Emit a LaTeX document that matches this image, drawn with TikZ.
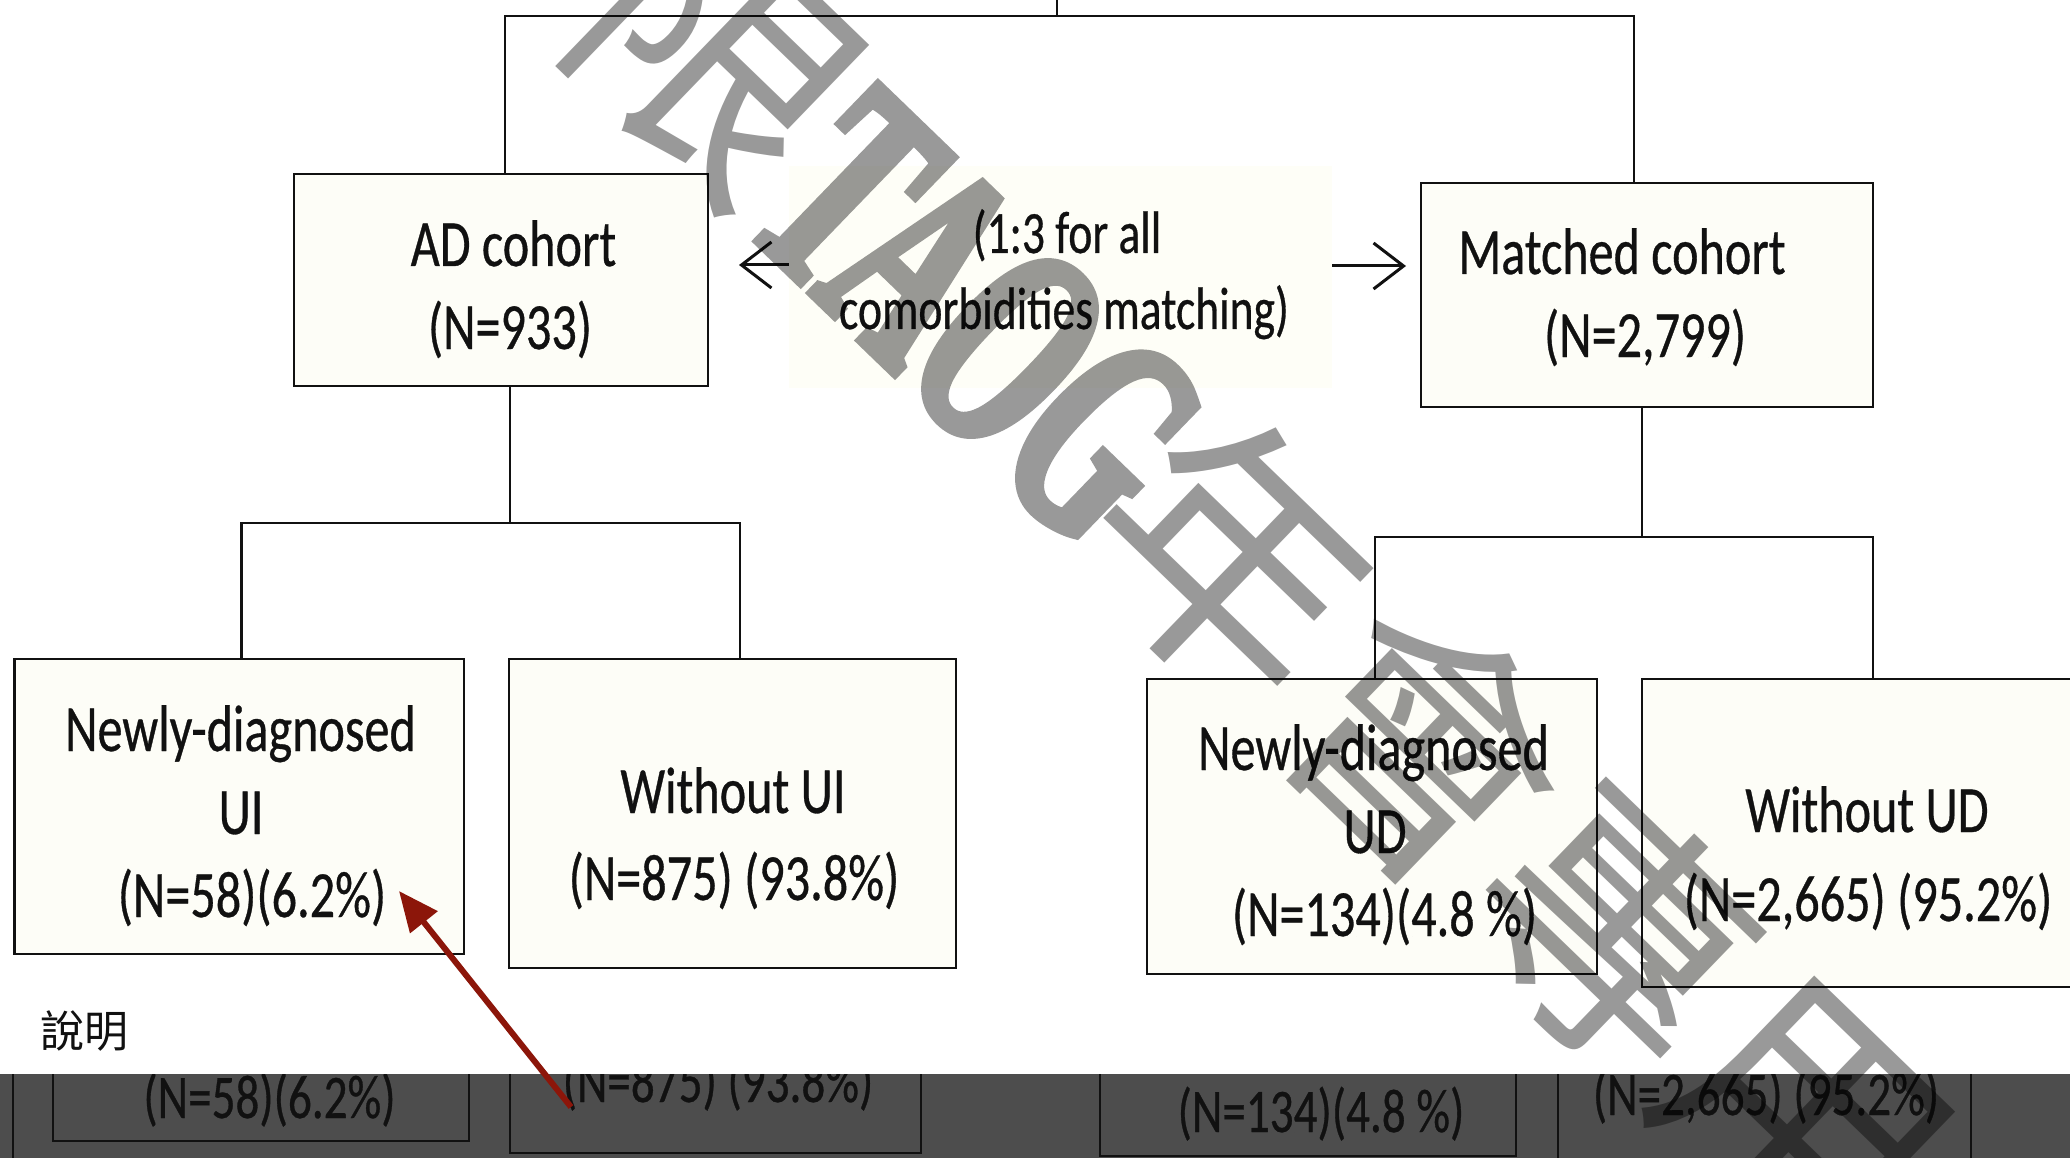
\documentclass[tikz,border=0pt]{standalone}
\usepackage{fontspec}
\setmainfont{Carlito}[FakeStretch=0.76,FakeBold=0.5]
\newfontfamily\cjkfont{Noto Sans CJK TC}
\newfontfamily\wmlatin{Liberation Serif}[FakeStretch=0.55,FakeBold=3]
\usetikzlibrary{arrows.meta}
\definecolor{boxfill}{RGB}{253,253,247}
\definecolor{midfill}{RGB}{254,254,247}
\definecolor{bandgray}{RGB}{77,77,77}
\definecolor{annored}{RGB}{140,22,10}
\definecolor{ink}{RGB}{17,17,17}
\begin{document}
\begin{tikzpicture}[x=1pt,y=-1pt,
  box/.style={draw=ink, line width=2.8pt, fill=boxfill, rectangle, inner sep=0pt},
  conn/.style={draw=ink, line width=2.6pt},
  lbl/.style={font=\fontsize{66}{83}\selectfont, anchor=base, inner sep=0pt, text=ink},
  mlbl/.style={font=\fontsize{60}{76}\selectfont, anchor=base, inner sep=0pt, text=ink},
  blbl/.style={font=\fontsize{62}{78}\selectfont, anchor=base, inner sep=0pt, text=ink},
  marr/.style={draw=ink, line width=3pt, -{Straight Barb[length=30pt,width=46pt,line width=3pt]}},
  redarr/.style={draw=annored, line width=6pt, -{Triangle[length=40pt,width=34pt]}},
  wm/.style={rotate=-44, text=black, inner sep=0pt}]
\useasboundingbox (0,0) rectangle (2070,1158);
\fill[white] (0,0) rectangle (2070,1158);

% boxes
\node[box, minimum width=414pt, minimum height=212pt] (ad) at (501,280) {};
\node[box, minimum width=452pt, minimum height=224pt] (mc) at (1647,295) {};
\node[fill=midfill, inner sep=0pt, minimum width=543pt, minimum height=222pt] (mid) at (1060.5,277) {};
\node[box, minimum width=449.5pt, minimum height=295pt] (ui) at (239.25,806.5) {};
\node[box, minimum width=447pt, minimum height=309pt] (woui) at (732.5,813.5) {};
\node[box, minimum width=450pt, minimum height=295pt] (ud) at (1372,826.5) {};
\node[box, minimum width=438pt, minimum height=308pt] (woud) at (1861,833) {};

% connectors
\coordinate (top) at (1057,0);
\coordinate (tj) at (1057,16);
\coordinate (lj) at (510,523);
\coordinate (rj) at (1642,537);
\draw[conn] (top) -- (tj);
\draw[conn] ([xshift=4pt]ad.north) |- (tj) -| ([xshift=-13pt]mc.north);
\draw[conn] ([xshift=9pt]ad.south) -- (lj);
\draw[conn] ([xshift=2pt]ui.north) |- (lj) -| ([xshift=7.5pt]woui.north);
\draw[conn] ([xshift=-5pt]mc.south) -- (rj);
\draw[conn] ([xshift=3pt]ud.north) |- (rj) -| ([xshift=12pt]woud.north);

% matching arrows
\coordinate (latip) at (739,265);
\coordinate (ratip) at (1406,266);
\draw[marr] ([yshift=12pt]mid.west) -- (latip);
\draw[marr] ([yshift=11pt]mid.east) -- (ratip);

% texts
\node[lbl] (t1) at (513.5,266) {AD cohort};
\node[lbl] (t2) at (510,349) {(N=933)};
\node[lbl] (t3) at (1622,274) {Matched cohort};
\node[lbl] (t4) at (1645,357) {(N=2,799)};
\node[mlbl] (t5) at (1067,253) {(1:3 for all};
\node[mlbl] (t6) at (1064,329) {comorbidities matching)};
\node[lbl] (t7) at (240.5,751) {Newly-diagnosed};
\node[lbl] (t8) at (241,834) {UI};
\node[lbl] (t9) at (252,917) {(N=58)(6.2\%)};
\node[lbl] (t10) at (733,813) {Without UI};
\node[lbl] (t11) at (734,900) {(N=875) (93.8\%)};
\node[lbl] (t12) at (1373.5,770) {Newly-diagnosed};
\node[lbl] (t13) at (1375,853) {UD};
\node[lbl] (t14) at (1384.5,936) {(N=134)(4.8 \%)};
\node[lbl] (t15) at (1867,832) {Without UD};
\node[lbl] (t16) at (1868,921) {(N=2,665) (95.2\%)};

% bottom band
\fill[bandgray] (0,1074) rectangle (2070,1158);
\begin{scope}
\clip (0,1074) rectangle (2070,1158);
\draw[ink, line width=2.6pt] (13,1000) -- (13,1200);
\draw[ink, line width=2.8pt] (53,1000) rectangle (469,1141);
\draw[ink, line width=2.8pt] (510,1000) rectangle (921,1153);
\draw[ink, line width=2.8pt] (1100,1000) rectangle (1516,1156);
\draw[ink, line width=2.8pt] (1558,1000) rectangle (1971,1200);
\node[blbl] (b1) at (269.5,1118) {(N=58)(6.2\%)};
\node[blbl] (b2) at (718,1102) {(N=875) (93.8\%)};
\node[blbl] (b3) at (1321,1132) {(N=134)(4.8 \%)};
\node[blbl] (b4) at (1766,1115) {(N=2,665) (95.2\%)};
\end{scope}

% annotation
\node[anchor=base west, inner sep=0pt, text=ink, font=\cjkfont\fontsize{44}{44}\selectfont] (note) at (40,1047) {說明};
\coordinate (rtail) at (571,1107);
\coordinate (rtip) at (399,891);
\draw[redarr] (rtail) -- (rtip);

% watermark
\begin{scope}[transparency group, opacity=0.4]
\node[wm, font=\cjkfont\fontsize{267}{267}\selectfont] (wm1) at (715,58) {限};
\node[wm, font=\wmlatin\bfseries\fontsize{300}{300}\selectfont] (wm2) at (978,318) {TAOG};
\node[wm, font=\cjkfont\fontsize{267}{267}\selectfont] (wm3) at (1521,837) {年會專用};
\end{scope}
\end{tikzpicture}
\end{document}
